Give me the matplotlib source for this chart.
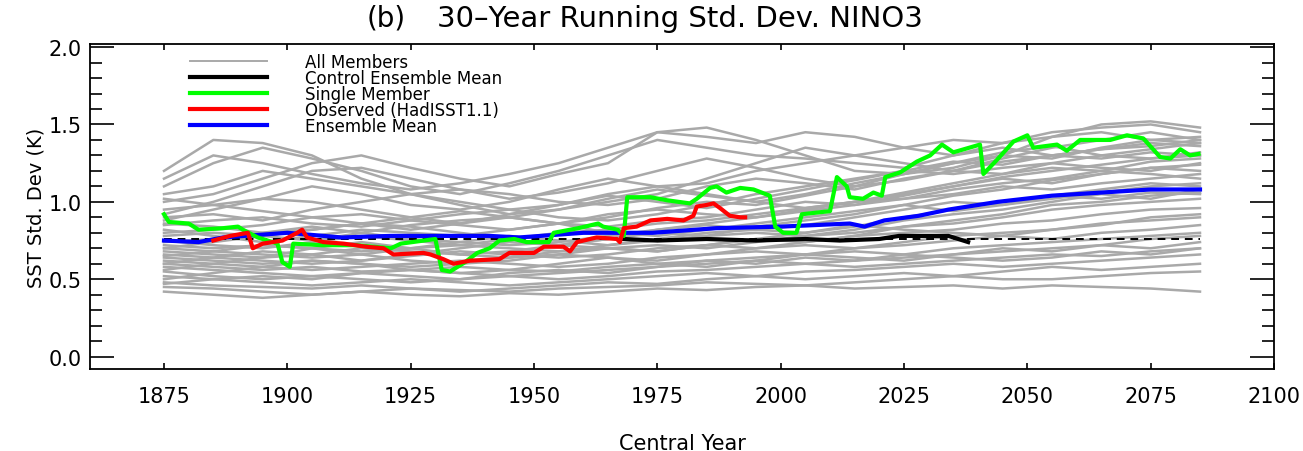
import matplotlib
matplotlib.use("Agg")
import matplotlib.pyplot as plt
from matplotlib.ticker import MultipleLocator, FormatStrFormatter

# ---- data ----
member_years = list(range(1875, 2086, 10))

members = [
    [1.20, 1.40, 1.38, 1.30, 1.15, 1.05, 1.00, 0.95, 0.98, 1.05, 1.10, 1.12, 1.20, 1.25, 1.30, 1.35, 1.40, 1.38, 1.42, 1.45, 1.40, 1.38],
    [1.10, 1.25, 1.35, 1.28, 1.20, 1.10, 1.05, 1.12, 1.20, 1.30, 1.40, 1.35, 1.30, 1.28, 1.25, 1.22, 1.30, 1.35, 1.30, 1.28, 1.32, 1.30],
    [1.00, 1.05, 1.15, 1.25, 1.30, 1.22, 1.15, 1.10, 1.18, 1.25, 1.45, 1.48, 1.40, 1.30, 1.20, 1.18, 1.22, 1.30, 1.42, 1.50, 1.52, 1.48],
    [0.95, 0.98, 1.02, 1.10, 1.05, 0.98, 0.95, 1.00, 1.08, 1.15, 1.10, 1.05, 1.00, 1.05, 1.12, 1.18, 1.25, 1.30, 1.28, 1.35, 1.40, 1.42],
    [0.90, 0.92, 0.88, 0.95, 1.00, 1.05, 1.08, 1.05, 1.00, 0.98, 1.02, 1.10, 1.15, 1.12, 1.08, 1.15, 1.20, 1.18, 1.25, 1.30, 1.28, 1.32],
    [0.85, 0.88, 0.90, 0.86, 0.84, 0.88, 0.92, 0.95, 0.90, 0.88, 0.92, 0.98, 1.05, 1.10, 1.15, 1.20, 1.18, 1.22, 1.25, 1.22, 1.20, 1.25],
    [0.80, 0.82, 0.85, 0.90, 0.92, 0.88, 0.85, 0.82, 0.86, 0.92, 0.95, 0.92, 0.90, 0.95, 1.00, 1.05, 1.10, 1.15, 1.12, 1.18, 1.22, 1.20],
    [0.78, 0.80, 0.78, 0.75, 0.80, 0.85, 0.88, 0.90, 0.86, 0.84, 0.88, 0.90, 0.95, 1.00, 0.98, 1.02, 1.05, 1.10, 1.08, 1.12, 1.15, 1.18],
    [0.75, 0.72, 0.70, 0.74, 0.78, 0.75, 0.72, 0.76, 0.80, 0.82, 0.86, 0.88, 0.92, 0.96, 1.00, 1.02, 1.08, 1.12, 1.15, 1.20, 1.18, 1.15],
    [0.72, 0.70, 0.72, 0.70, 0.68, 0.70, 0.74, 0.78, 0.75, 0.72, 0.76, 0.80, 0.82, 0.85, 0.90, 0.95, 1.00, 0.98, 1.02, 1.06, 1.10, 1.12],
    [0.70, 0.68, 0.66, 0.64, 0.66, 0.70, 0.72, 0.70, 0.68, 0.72, 0.75, 0.78, 0.80, 0.78, 0.82, 0.88, 0.92, 0.95, 1.00, 1.05, 1.02, 1.08],
    [0.68, 0.66, 0.64, 0.66, 0.70, 0.68, 0.66, 0.64, 0.68, 0.70, 0.72, 0.70, 0.74, 0.78, 0.80, 0.84, 0.86, 0.90, 0.95, 0.98, 1.00, 1.02],
    [0.66, 0.64, 0.62, 0.60, 0.62, 0.65, 0.68, 0.66, 0.64, 0.66, 0.70, 0.72, 0.70, 0.74, 0.78, 0.80, 0.82, 0.86, 0.88, 0.92, 0.95, 0.96],
    [0.64, 0.62, 0.60, 0.62, 0.60, 0.58, 0.60, 0.64, 0.66, 0.64, 0.62, 0.66, 0.70, 0.72, 0.70, 0.74, 0.78, 0.80, 0.82, 0.86, 0.88, 0.90],
    [0.62, 0.60, 0.58, 0.56, 0.58, 0.60, 0.62, 0.60, 0.58, 0.60, 0.64, 0.66, 0.68, 0.66, 0.70, 0.72, 0.75, 0.78, 0.76, 0.80, 0.82, 0.85],
    [0.60, 0.58, 0.56, 0.58, 0.55, 0.56, 0.58, 0.56, 0.55, 0.58, 0.60, 0.62, 0.64, 0.66, 0.68, 0.66, 0.70, 0.72, 0.74, 0.76, 0.78, 0.80],
    [0.58, 0.56, 0.54, 0.52, 0.54, 0.56, 0.54, 0.52, 0.54, 0.56, 0.58, 0.60, 0.62, 0.60, 0.62, 0.64, 0.66, 0.68, 0.70, 0.72, 0.70, 0.74],
    [0.55, 0.52, 0.50, 0.52, 0.50, 0.48, 0.50, 0.52, 0.50, 0.52, 0.55, 0.56, 0.58, 0.60, 0.58, 0.60, 0.62, 0.64, 0.66, 0.65, 0.68, 0.70],
    [0.52, 0.50, 0.48, 0.46, 0.48, 0.50, 0.48, 0.46, 0.48, 0.50, 0.52, 0.54, 0.52, 0.55, 0.56, 0.58, 0.60, 0.58, 0.60, 0.62, 0.64, 0.66],
    [0.48, 0.46, 0.45, 0.44, 0.46, 0.44, 0.42, 0.44, 0.46, 0.48, 0.47, 0.50, 0.52, 0.50, 0.52, 0.54, 0.52, 0.55, 0.58, 0.56, 0.58, 0.60],
    [0.45, 0.44, 0.42, 0.40, 0.42, 0.44, 0.43, 0.42, 0.44, 0.45, 0.46, 0.48, 0.47, 0.46, 0.48, 0.50, 0.52, 0.50, 0.50, 0.52, 0.54, 0.55],
    [0.42, 0.40, 0.38, 0.40, 0.42, 0.40, 0.39, 0.41, 0.40, 0.42, 0.44, 0.43, 0.45, 0.46, 0.44, 0.45, 0.46, 0.44, 0.46, 0.45, 0.44, 0.42],
    [1.05, 1.10, 1.20, 1.15, 1.10, 1.05, 0.98, 0.92, 0.95, 1.00, 1.05, 1.15, 1.25, 1.35, 1.30, 1.25, 1.20, 1.28, 1.35, 1.40, 1.45, 1.40],
    [0.88, 0.95, 1.02, 1.00, 0.95, 0.90, 0.86, 0.90, 0.95, 1.02, 1.08, 1.04, 1.00, 0.96, 1.00, 1.06, 1.12, 1.18, 1.22, 1.20, 1.26, 1.28],
    [0.82, 0.78, 0.74, 0.78, 0.82, 0.80, 0.78, 0.82, 0.86, 0.80, 0.78, 0.82, 0.86, 0.90, 0.94, 0.98, 0.94, 0.98, 1.04, 1.08, 1.12, 1.10],
    [0.74, 0.76, 0.80, 0.84, 0.80, 0.76, 0.74, 0.72, 0.74, 0.78, 0.82, 0.85, 0.82, 0.80, 0.84, 0.90, 0.95, 1.00, 1.04, 1.02, 1.06, 1.05],
    [0.65, 0.68, 0.72, 0.70, 0.66, 0.62, 0.60, 0.62, 0.66, 0.70, 0.68, 0.72, 0.76, 0.80, 0.85, 0.82, 0.80, 0.78, 0.82, 0.85, 0.90, 0.92],
    [1.15, 1.30, 1.25, 1.18, 1.12, 1.08, 1.12, 1.18, 1.25, 1.35, 1.45, 1.42, 1.38, 1.45, 1.42, 1.35, 1.30, 1.38, 1.45, 1.48, 1.50, 1.45],
    [0.92, 1.00, 1.10, 1.20, 1.22, 1.15, 1.08, 1.02, 1.06, 1.12, 1.20, 1.28, 1.22, 1.15, 1.10, 1.18, 1.25, 1.32, 1.36, 1.30, 1.34, 1.38],
    [0.50, 0.54, 0.58, 0.62, 0.60, 0.56, 0.54, 0.56, 0.60, 0.64, 0.60, 0.58, 0.62, 0.66, 0.64, 0.62, 0.66, 0.70, 0.68, 0.72, 0.76, 0.78],
    [0.86, 0.84, 0.80, 0.82, 0.86, 0.90, 0.94, 0.90, 0.86, 0.90, 0.96, 1.00, 0.98, 1.04, 1.10, 1.14, 1.20, 1.26, 1.30, 1.34, 1.36, 1.40],
    [0.60, 0.64, 0.68, 0.66, 0.62, 0.66, 0.70, 0.74, 0.72, 0.76, 0.80, 0.78, 0.84, 0.88, 0.92, 0.98, 1.04, 1.08, 1.14, 1.18, 1.22, 1.24],
    [1.02, 0.98, 0.94, 0.90, 0.86, 0.82, 0.86, 0.92, 0.98, 1.04, 1.00, 0.96, 1.02, 1.08, 1.14, 1.20, 1.26, 1.24, 1.30, 1.34, 1.38, 1.36],
    [0.56, 0.60, 0.64, 0.70, 0.74, 0.70, 0.66, 0.68, 0.72, 0.70, 0.68, 0.72, 0.76, 0.74, 0.78, 0.84, 0.88, 0.92, 0.98, 1.00, 1.04, 1.06],
    [0.70, 0.74, 0.78, 0.82, 0.86, 0.84, 0.80, 0.76, 0.72, 0.76, 0.82, 0.86, 0.90, 0.94, 0.98, 1.04, 1.10, 1.16, 1.20, 1.24, 1.28, 1.30],
    [0.47, 0.50, 0.52, 0.50, 0.54, 0.52, 0.50, 0.54, 0.56, 0.54, 0.58, 0.62, 0.60, 0.64, 0.62, 0.66, 0.64, 0.62, 0.64, 0.68, 0.66, 0.70],
]

ctrl_years = [1968, 1975, 1985, 1995, 2005, 2012, 2020, 2024, 2030, 2034, 2036, 2038]
ctrl_vals = [0.76, 0.75, 0.76, 0.75, 0.76, 0.75, 0.76, 0.78, 0.78, 0.78, 0.76, 0.74]
ctrl_mean_years = [1875, 2085]
ctrl_mean_vals = [0.76, 0.76]

single_years = [1875, 1876, 1880, 1882, 1887, 1890, 1891, 1894, 1896, 1898, 1899, 1900.5, 1901.2,
                1907, 1914, 1921, 1923, 1930, 1931.3, 1933, 1936, 1938.5, 1941, 1943, 1946, 1948.5,
                1953, 1954, 1959, 1963, 1964, 1967, 1968.2, 1968.9, 1973.6, 1977, 1981.6, 1983,
                1985.7, 1987, 1989, 1991.8, 1994.5, 1997.8, 1998.9, 2000.5, 2003.2, 2004.3, 2010,
                2011.4, 2013.4, 2014, 2016.7, 2018.8, 2020.5, 2021.2, 2024.2, 2027.6, 2030.3, 2032.7,
                2035, 2040.4, 2041.1, 2043.8, 2047.2, 2050, 2051.2, 2056, 2058, 2060.7, 2066.8,
                2070.2, 2073.5, 2076.9, 2079, 2081, 2083, 2084.7]
single_vals = [0.92, 0.87, 0.86, 0.82, 0.83, 0.84, 0.82, 0.77, 0.75, 0.73, 0.61, 0.58, 0.73,
               0.72, 0.72, 0.70, 0.73, 0.76, 0.56, 0.55, 0.61, 0.67, 0.70, 0.75, 0.76, 0.74,
               0.74, 0.80, 0.83, 0.86, 0.84, 0.82, 0.78, 1.03, 1.03, 1.01, 0.99, 1.02,
               1.09, 1.10, 1.06, 1.09, 1.08, 1.04, 0.84, 0.80, 0.80, 0.92, 0.94,
               1.16, 1.10, 1.03, 1.02, 1.06, 1.04, 1.16, 1.19, 1.26, 1.30, 1.37,
               1.32, 1.37, 1.18, 1.27, 1.39, 1.43, 1.35, 1.37, 1.33, 1.40, 1.40,
               1.43, 1.41, 1.29, 1.28, 1.34, 1.30, 1.31]

obs_years = [1885, 1888.4, 1892, 1893, 1895, 1899, 1902, 1903, 1904, 1907.3, 1911.4, 1916,
             1919.5, 1921.5, 1927.6, 1929, 1931.6, 1933.7, 1937, 1943, 1945, 1950, 1952,
             1956, 1957.3, 1958.7, 1962.7, 1966.8, 1967.4, 1968.2, 1970.8, 1973.6, 1977,
             1980.3, 1982.3, 1983, 1985, 1986.4, 1987.7, 1989.7, 1991.8, 1992.8]
obs_vals = [0.75, 0.78, 0.80, 0.70, 0.73, 0.75, 0.80, 0.82, 0.77, 0.74, 0.73, 0.71,
            0.70, 0.66, 0.67, 0.66, 0.63, 0.60, 0.62, 0.63, 0.67, 0.67, 0.71,
            0.71, 0.68, 0.74, 0.77, 0.76, 0.74, 0.83, 0.84, 0.88, 0.89,
            0.88, 0.91, 0.97, 0.98, 0.99, 0.96, 0.91, 0.90, 0.90]

ens_years = [1875, 1882, 1887, 1900, 1911, 1921, 1941, 1947, 1960, 1974, 1987, 2000, 2014,
             2017, 2021, 2028, 2034, 2044, 2055, 2065, 2075, 2085]
ens_vals = [0.75, 0.74, 0.77, 0.80, 0.77, 0.78, 0.78, 0.77, 0.80, 0.80, 0.83, 0.84, 0.86,
            0.84, 0.88, 0.91, 0.95, 1.00, 1.04, 1.06, 1.08, 1.08]

legend_labels = ["All Members", "Control Ensemble Mean", "Single Member",
                 "Observed (HadISST1.1)", "Ensemble Mean"]

GRAY = "#a9a9a9"

fig = plt.figure(figsize=(13.03, 4.52), dpi=100)
ax = fig.add_axes([90 / 1303, 82 / 452, 1184 / 1303, 325 / 452])

for vals in members:
    ax.plot(member_years, vals, color=GRAY, lw=1.8, zorder=1)

ax.plot(ctrl_mean_years, ctrl_mean_vals, color="black", lw=1.4, ls=(0, (4, 3)), zorder=2)
ax.plot(ctrl_years, ctrl_vals, color="black", lw=3, zorder=3)
ax.plot(ens_years, ens_vals, color="#0000ff", lw=3, zorder=4)
ax.plot(single_years, single_vals, color="#00ff00", lw=3, zorder=5)
ax.plot(obs_years, obs_vals, color="#ff0000", lw=3, zorder=6)

# legend
handles = [
    plt.Line2D([], [], color=GRAY, lw=1.4),
    plt.Line2D([], [], color="black", lw=3),
    plt.Line2D([], [], color="#00ff00", lw=3),
    plt.Line2D([], [], color="#ff0000", lw=3),
    plt.Line2D([], [], color="#0000ff", lw=3),
]
ax.legend(handles, legend_labels, loc="upper left", bbox_to_anchor=(0.0845, 0.972),
          frameon=False, fontsize=12, handlelength=4.6, handletextpad=2.3,
          labelspacing=-0.12, borderpad=0, borderaxespad=0)

ax.set_xlim(1860, 2100)
ax.set_ylim(-0.08, 2.02)
ax.xaxis.set_major_locator(MultipleLocator(25))
ax.yaxis.set_major_locator(MultipleLocator(0.5))
ax.yaxis.set_minor_locator(MultipleLocator(0.1))
ax.yaxis.set_major_formatter(FormatStrFormatter("%.1f"))

ax.tick_params(axis="x", which="major", direction="in", top=True, length=4, width=1.2,
               labelsize=15, pad=12)
ax.tick_params(axis="y", which="major", direction="in", right=True, length=17, width=1.2,
               labelsize=15, pad=6)
ax.tick_params(axis="y", which="minor", direction="in", right=True, length=8.5, width=1.2)
for sp in ax.spines.values():
    sp.set_linewidth(1.3)

ax.set_xlabel("Central Year", fontsize=15, labelpad=20)
ax.set_ylabel("SST Std. Dev (K)", fontsize=14)
ax.yaxis.set_label_coords(-0.038, 0.5)

fig.text(386 / 1303, 1 - 19 / 452, "(b)", fontsize=20, ha="center", va="center")
fig.text(437 / 1303, 1 - 19 / 452, "30\u2013Year Running Std. Dev. NINO3", fontsize=21,
         ha="left", va="center")

fig.savefig("out.png", dpi=100)
